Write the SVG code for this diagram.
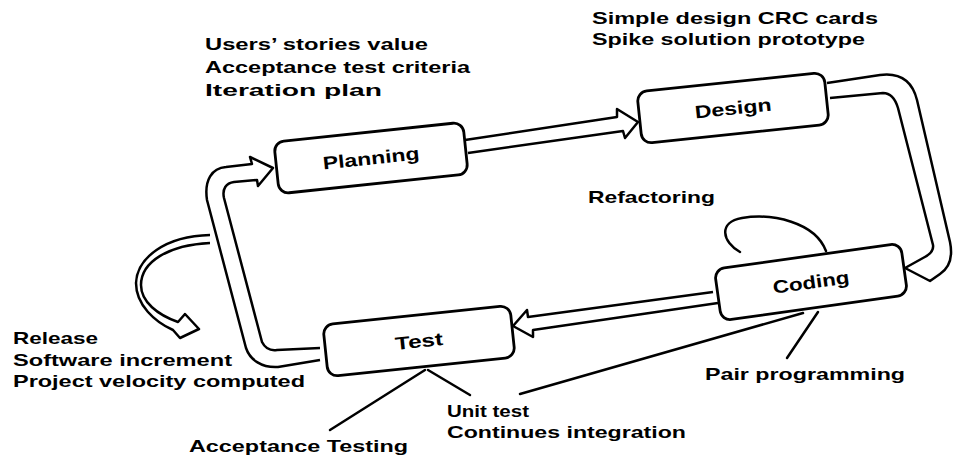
<svg xmlns="http://www.w3.org/2000/svg" width="956" height="457" viewBox="0 0 956 457">
  <style>
    .band { fill: #fff; stroke: #000; stroke-width: 2.5; stroke-linejoin: round; }
    .line { fill: none; stroke: #000; stroke-width: 2.5; stroke-linecap: round; }
    .box { fill: #fff; stroke: #000; stroke-width: 2.8; }
    .node { font-family: "Liberation Sans", Arial, sans-serif; font-weight: bold; font-size: 18px; fill: #000; text-anchor: middle; }
    .label { font-family: "Liberation Sans", Arial, sans-serif; font-weight: bold; font-size: 17px; fill: #000; }
  </style>

  <!-- connectors: hollow block arrows, loops and label leaders -->
  <g id="connectors">
    <!-- Planning to Design -->
    <path class="band" d="M465,140 L617,117 L617,109 L638,122 L625,138 L623,131 L468,153"/>
    <!-- Design to Coding -->
    <path class="band" d="M827,83 L880,75 C903,72 913,84 917,100 L950,242 C953,257 949,268 940,274 L930,281 L905,268 L923,258 C929,255 934,251 933,245 L898,108 C895,98 890,93 883,93 L830,98"/>
    <!-- Coding to Test -->
    <path class="band" d="M713,292 L528,317 L527,310 L513,326 L533,337 L533,330 L718,303"/>
    <!-- Test back to Planning -->
    <path class="band" d="M320,360 L278,367 C262,368 250,360 246,348 L207,200 C204,180 212,168 226,167 L252,164 L250,157 L273,168 L258,186 L257,180 L234,182 C226,183 222,189 224,198 L262,342 C265,348 270,351 277,350 L320,348"/>
    <!-- release arrow -->
    <path class="band" stroke-width="2.2" d="M210,235 C165,236 137,258 136,283 C136,305 155,322 173,330 L180,338 L199,329 L185,314 L178,322 C158,315 141,302 141,285 C141,262 168,245 210,243"/>
    <!-- refactoring loop on Coding -->
    <path class="line" d="M740,252 C722,242 718,222 742,218 C772,213 815,222 826,251"/>
    <!-- leaders -->
    <line class="line" x1="425" y1="370" x2="330" y2="430"/>
    <line class="line" x1="428" y1="370" x2="470" y2="395"/>
    <line class="line" x1="520" y1="394" x2="803" y2="313"/>
    <line class="line" x1="818" y1="312" x2="787" y2="358"/>
  </g>

  <g id="planning" transform="translate(371,158) rotate(-6)">
    <rect class="box" x="-95" y="-26" width="190" height="52" rx="10"/>
    <text class="node" y="6.5" textLength="97" lengthAdjust="spacingAndGlyphs">Planning</text>
  </g>
  <g id="design" transform="translate(733,108) rotate(-6)">
    <rect class="box" x="-94" y="-26" width="188" height="52" rx="10"/>
    <text class="node" y="6.5" textLength="77" lengthAdjust="spacingAndGlyphs">Design</text>
  </g>
  <g id="coding" transform="translate(811,282) rotate(-8)">
    <rect class="box" x="-94" y="-26" width="188" height="52" rx="10"/>
    <text class="node" y="6.5" textLength="77" lengthAdjust="spacingAndGlyphs">Coding</text>
  </g>
  <g id="test" transform="translate(419,341) rotate(-6)">
    <rect class="box" x="-94" y="-26" width="188" height="52" rx="10"/>
    <text class="node" y="6.5" textLength="48" lengthAdjust="spacingAndGlyphs">Test</text>
  </g>

  <g id="labels">
    <text class="label" x="205" y="50" textLength="223" lengthAdjust="spacingAndGlyphs">Users’ stories value</text>
    <text class="label" x="205" y="73" textLength="265" lengthAdjust="spacingAndGlyphs">Acceptance test criteria</text>
    <text class="label" x="205" y="96" textLength="177" lengthAdjust="spacingAndGlyphs">Iteration plan</text>
    <text class="label" x="592" y="24" textLength="286" lengthAdjust="spacingAndGlyphs">Simple design CRC cards</text>
    <text class="label" x="592" y="45" textLength="273" lengthAdjust="spacingAndGlyphs">Spike solution prototype</text>
    <text class="label" x="588" y="203" textLength="127" lengthAdjust="spacingAndGlyphs">Refactoring</text>
    <text class="label" x="13" y="344" textLength="85" lengthAdjust="spacingAndGlyphs">Release</text>
    <text class="label" x="13" y="366" textLength="219" lengthAdjust="spacingAndGlyphs">Software increment</text>
    <text class="label" x="13" y="387" textLength="292" lengthAdjust="spacingAndGlyphs">Project velocity computed</text>
    <text class="label" x="705" y="380" textLength="200" lengthAdjust="spacingAndGlyphs">Pair programming</text>
    <text class="label" x="447" y="417" textLength="82" lengthAdjust="spacingAndGlyphs">Unit test</text>
    <text class="label" x="447" y="438" textLength="239" lengthAdjust="spacingAndGlyphs">Continues integration</text>
    <text class="label" x="189" y="452" textLength="219" lengthAdjust="spacingAndGlyphs">Acceptance Testing</text>
  </g>
</svg>
